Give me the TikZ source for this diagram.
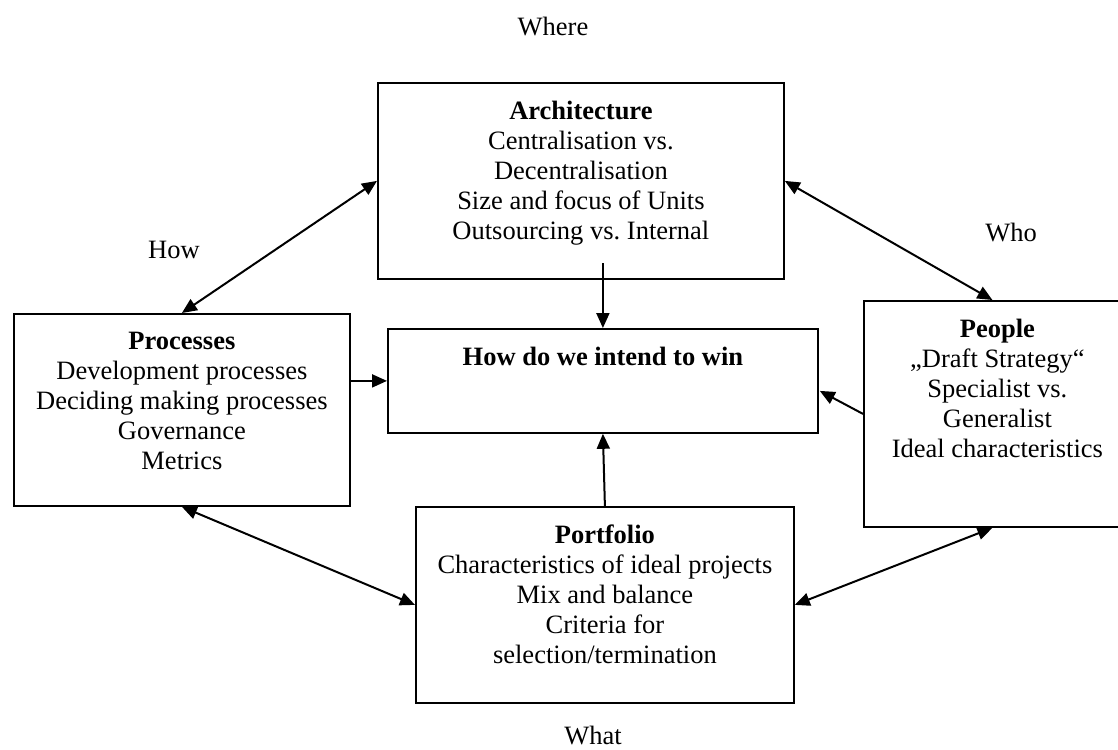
\documentclass[tikz,border=0pt]{standalone}
\usepackage{fontspec}
\setmainfont{Liberation Serif}
\usetikzlibrary{arrows.meta,calc}
\frenchspacing
\begin{document}
\begin{tikzpicture}[x=1pt,y=-1pt,
  box/.style={draw, line width=1.8pt, rectangle, inner sep=0pt, anchor=north west},
  txt/.style={align=center, inner sep=0pt, anchor=north, font=\fontsize{26.5}{30}\selectfont},
  lbl/.style={inner sep=0pt, font=\fontsize{26.5}{30}\selectfont},
  arr/.style={line width=2pt, -{Triangle[length=15pt,width=13pt]}},
  dbl/.style={line width=2pt, {Triangle[length=15pt,width=13pt]}-{Triangle[length=15pt,width=13pt]}}]
\path[use as bounding box] (0,0) rectangle (1118,749);
\clip (0,0) rectangle (1118,749);
% boxes
\node[box, minimum width=406pt, minimum height=196pt] (arch) at (377,82) {};
\node[box, minimum width=336pt, minimum height=192pt] (proc) at (13,313) {};
\node[box, minimum width=430pt, minimum height=104pt] (center) at (387,328) {};
\node[box, minimum width=257pt, minimum height=226pt] (people) at (863,300) {};
\node[box, minimum width=378pt, minimum height=196pt] (port) at (415,506) {};
% texts
\node[txt] (archtext) at ($(arch.north)+(0,19)$) {\textbf{Architecture}\\Centralisation vs.\\Decentralisation\\Size and focus of Units\\Outsourcing vs. Internal};
\node[txt] (proctext) at ($(proc.north)+(0,19)$) {\textbf{Processes}\\Development processes\\Deciding making processes\\Governance\\Metrics};
\node[txt] (centertext) at ($(center.north)+(0,19)$) {\textbf{How do we intend to win}};
\node[txt] (peopletext) at ($(people.north)+(5,19)$) {\textbf{People}\\„Draft Strategy“\\Specialist vs.\\Generalist\\Ideal characteristics};
\node[txt] (porttext) at ($(port.north)+(0,19)$) {\textbf{Portfolio}\\Characteristics of ideal projects\\Mix and balance\\Criteria for\\selection/termination};
% labels
\node[lbl] (where) at (553,27) {Where};
\node[lbl] (how) at (174,250) {How};
\node[lbl] (who) at (1011,233) {Who};
\node[lbl] (what) at (593,735) {What};
% connectors
\coordinate (archin) at ($(center.north)+(0,-65)$);
\coordinate (cin) at ($(center.east)+(1,10)$);
\draw[dbl] (proc.north) -- (arch.west);
\draw[dbl] (arch.east) -- (people.north);
\draw[dbl] (proc.south) -- (port.west);
\draw[dbl] (people.south) -- (port.east);
\draw[arr] (archin) -- (center.north);
\draw[arr] (port.north) -- (center.south);
\draw[arr] (proc.east |- center.west) -- (center.west);
\draw[arr] (people.west) -- (cin);
\end{tikzpicture}
\end{document}
